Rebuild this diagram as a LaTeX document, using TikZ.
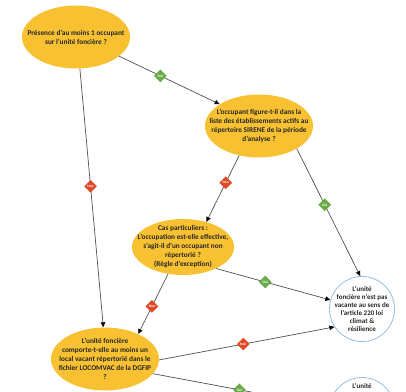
\documentclass[tikz,border=0pt]{standalone}
\usepackage{fontspec}
\setmainfont{Carlito}
\usetikzlibrary{shapes.geometric,arrows.meta}
\definecolor{qyellow}{RGB}{247,193,50}
\definecolor{ringblue}{RGB}{150,190,228}
\definecolor{ouigreen}{RGB}{106,170,72}
\definecolor{nonred}{RGB}{222,74,38}
\definecolor{linkgray}{RGB}{80,80,80}
\begin{document}
\begin{tikzpicture}[
  x=1pt, y=-1pt,
  question/.style={ellipse, fill=qyellow, minimum width=108pt, minimum height=63pt, inner xsep=-30pt, inner ysep=-6pt, align=center, text=black!85, font=\bfseries\fontsize{7.3}{9}\selectfont},
  result/.style={circle, draw=ringblue, line width=0.8pt, fill=white, minimum size=65pt, inner sep=-14pt, align=center, text=black!85, font=\bfseries\fontsize{7}{8}\selectfont},
  answer/.style={diamond, text=white, inner sep=0.5pt, minimum size=13pt, font=\bfseries\fontsize{3.6}{3.6}\selectfont},
  oui/.style={answer, fill=ouigreen},
  non/.style={answer, fill=nonred},
  link/.style={->, draw=linkgray, line width=0.7pt},
  >={Triangle[length=5pt,width=4.5pt,color=black]}
]
\useasboundingbox (0,0) rectangle (406,391);
\clip (0,0) rectangle (406,391);

% Questions
\node (e1) [question] at (76,37) {Présence d'au moins 1 occupant\\sur l'unité foncière ?};
\node (e2) [question] at (259,126) {L'occupant figure-t-il dans la\\liste des établissements actifs au\\répertoire SIRENE de la période\\d'analyse ?};
\node (e3) [question, minimum width=102pt, minimum height=56pt] at (183,247) {Cas particuliers :\\L'occupation est-elle effective,\\s'agit-il d'un occupant non\\répertorié ?\\(Règle d'exception)};
\node (e4) [question] at (105,359) {L'unité foncière\\comporte-t-elle au moins un\\local vacant répertorié dans le\\fichier LOCOMVAC de la DGFIP\\?};

% Results
\node (c1) [result] at (362,309) {L'unité\\foncière n'est pas\\vacante au sens de\\l'article 220 loi\\climat \&\\résilience};
\node (c2) [result, text depth=48pt] at (362,410) {L'unité};

% Connections
\draw[link] (e1.-24) -- node[oui, pos=0.41] (oui1) {Oui} (e2.151);
\draw[link] (e1.-83) -- node[non, pos=0.455] (non1) {Non} (e4.93);
\draw[link] (e2.-124) -- node[non, pos=0.41] (non2) {Non} (e3.47);
\draw[link] (e2.-31) -- node[oui, pos=0.44] (oui2) {Oui} (c1.93);
\draw[link] (e3.-33) -- node[oui, pos=0.43] (oui3) {Oui} (c1.164);
\draw[link] (e3.-119) -- node[non, pos=0.54] (non3) {Non} (e4.37);
\draw[link] (e4.-1) -- node[non, pos=0.48] (non4) {Non} (c1.213);
\draw[link] (e4.-17) -- node[oui, pos=0.49] (oui4) {Oui} (c2.174);

\end{tikzpicture}
\end{document}
